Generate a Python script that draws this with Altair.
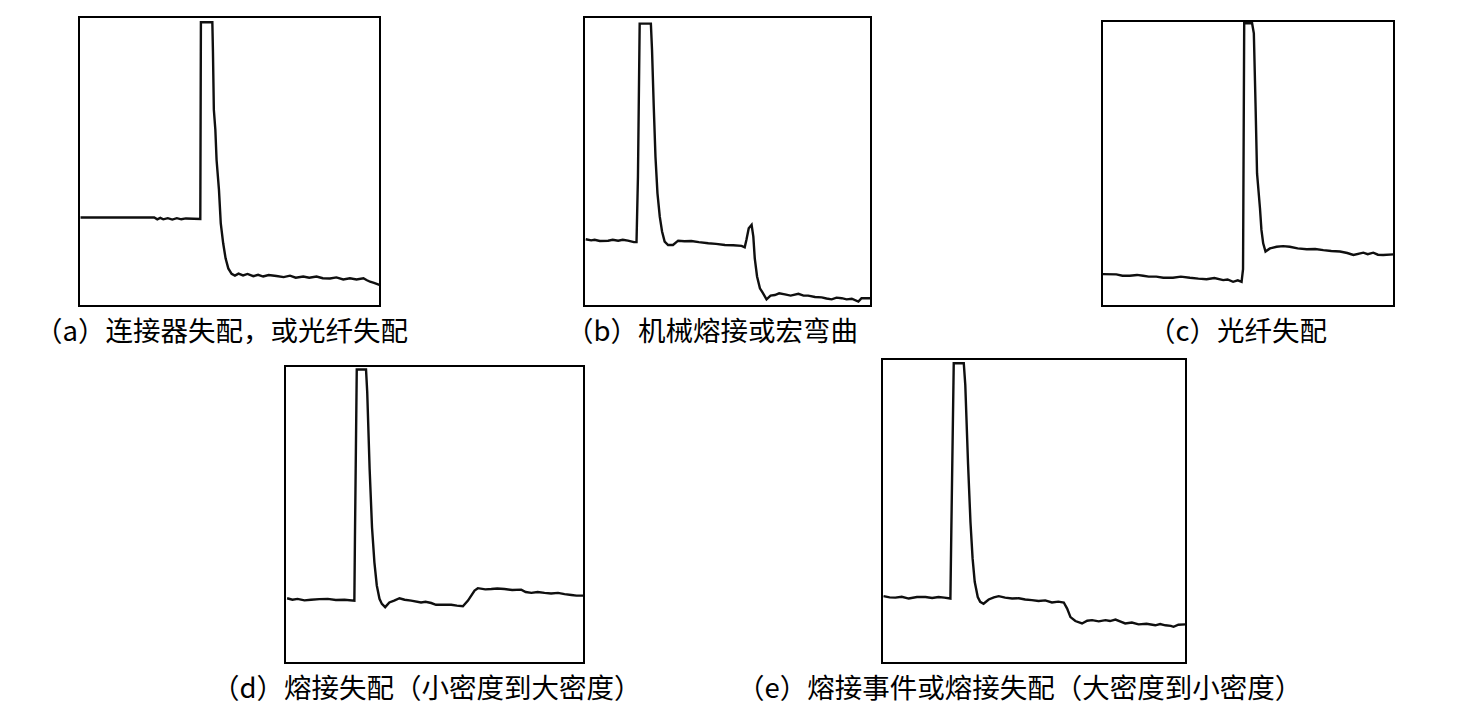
import altair as alt
import pandas as pd

# OTDR trace shapes for five splice / connector events (relative units 0-100)
a_x = [0.5, 25, 26, 27, 28, 29.5, 31, 32.5, 34, 35.5, 40.3, 40.5, 44.3, 44.5, 44.8, 45.3, 45.7, 46.5, 47.1, 47.9,
       48.7, 49.6, 50.7, 51.8, 53, 54.5, 56, 57.9, 59.5, 61.2, 63, 65.6, 68, 70.1, 72, 74.5, 76.5, 78.9, 81, 83.4,
       85.5, 87.8, 90, 92.2, 94.5, 95.5, 96.7, 98, 99.8]
a_y = [30.6, 30.6, 30.0, 30.5, 30.0, 30.4, 29.9, 30.4, 30.0, 30.3, 30.1, 98.2, 98.2, 88.1, 67.9, 61.0, 50.6, 40.2, 28.6, 21.7,
       16.5, 13.0, 11.1, 10.5, 11.2, 10.6, 11.1, 10.3, 10.8, 10.2, 10.7, 10.4, 10.0, 10.5, 9.8, 10.2, 9.8, 10.2, 9.6, 9.5,
       9.9, 9.2, 9.6, 9.2, 9.6, 9.0, 8.4, 8.0, 7.3]

b_x = [0.6, 2.5, 3.7, 5.5, 8.4, 10, 11.9, 13.5, 15.3, 17.4, 18.3, 18.8, 19.4, 23.3, 23.7, 24.3, 24.9, 25.6, 26.4, 27.2,
       28.1, 29.3, 31.0, 32.8, 35, 37.4, 40, 43.3, 46, 49.1, 52, 54.9, 56.0, 56.6, 57.4, 58.4, 59.0, 59.5, 60.3, 61.3,
       62.4, 63.6, 65, 66.5, 68, 70, 72, 74.7, 76.5, 78.1, 80.5, 82.8, 84.5, 86.3, 88, 89.8, 91.5, 93.3, 95.6, 96.7,
       99.7]
b_y = [23.1, 22.7, 22.9, 22.5, 22.6, 22.9, 22.6, 22.9, 22.6, 22.1, 22.1, 44.8, 97.7, 97.7, 88.7, 69.1, 51.7, 39.0, 30.9, 25.8,
       22.3, 21.1, 21.1, 22.6, 22.4, 22.5, 22.1, 21.7, 21.5, 21.1, 21.0, 20.8, 20.3, 22.9, 26.9, 28.1, 24.0, 16.5, 10.2, 6.1,
       4.4, 2.3, 3.6, 3.8, 4.4, 4.0, 3.6, 4.2, 3.6, 3.6, 3.1, 3.0, 2.6, 2.3, 2.9, 2.7, 2.3, 2.5, 1.5, 2.7,
       2.7]

c_x = [0.3, 4.9, 7, 9.5, 12, 14.1, 16, 18.6, 21, 24.3, 27, 30.1, 33, 35.8, 38.5, 41.5, 43, 44.9, 46.5, 47.8,
       48.3, 48.7, 51.4, 52.0, 52.6, 53.1, 54.1, 54.6, 55.2, 56.0, 57.5, 59.8, 62, 64.3, 67, 70.1, 73, 75.8, 78.5, 81.5,
       84, 86.1, 89.5, 91, 92.9, 94.5, 96.3, 99.8]
c_y = [11.2, 11.1, 10.6, 10.6, 10.9, 10.6, 10.3, 10.3, 9.9, 9.9, 10.3, 9.9, 9.6, 9.4, 9.8, 9.1, 9.3, 8.5, 9.0, 8.5,
       12.9, 99.2, 99.2, 95.7, 69.9, 46.5, 34.3, 26.7, 22.0, 19.1, 20.2, 20.8, 21.0, 20.8, 20.2, 19.9, 20.0, 19.6, 19.3, 19.1,
       18.6, 17.9, 18.7, 18.2, 18.7, 18.0, 17.9, 18.1]

d_x = [0.7, 2.5, 4.2, 6.5, 8.7, 11.5, 14.3, 17, 19.9, 23.2, 23.4, 24.0, 27.1, 27.5, 28.3, 29.1, 29.9, 30.7, 31.6, 32.4,
       33.5, 34.9, 36.5, 38.3, 40, 42.2, 45.5, 47, 48.9, 50.5, 52.2, 55.6, 57.5, 59.5, 61.2, 63.4, 64.5, 67, 69.0, 71,
       73.4, 76, 79.0, 80.5, 82.4, 84.5, 86.8, 89, 91.3, 93.5, 95.8, 97.5, 99.7]
d_y = [21.8, 21.3, 21.6, 21.1, 21.3, 21.5, 21.6, 21.2, 21.3, 21.0, 42.9, 98.8, 98.8, 91.2, 65.4, 45.7, 33.9, 26.1, 21.6, 19.9,
       18.8, 20.4, 21.0, 21.8, 21.3, 21.0, 20.4, 20.6, 20.2, 19.6, 19.6, 19.6, 19.3, 19.1, 21.0, 24.4, 25.2, 24.8, 24.9, 25.1,
       24.9, 24.6, 24.7, 23.9, 23.6, 23.9, 23.6, 23.4, 23.6, 23.2, 22.9, 22.7, 22.7]

e_x = [0.5, 2.5, 4.4, 6.5, 8.8, 11.5, 14.3, 16.5, 18.6, 20.5, 22.5, 22.8, 23.6, 26.9, 27.4, 28.3, 29.1, 29.8, 30.5, 31.5,
       32.3, 33.4, 35.1, 36.8, 38.4, 40.5, 42.8, 45, 47.1, 49.3, 51.5, 53.7, 55.9, 58, 59.8, 60.9, 62.0, 63.6, 65.8, 67.5,
       69.1, 71.3, 73.5, 75, 76.8, 78.5, 80.0, 82.2, 84.4, 87, 89.9, 91.5, 93.2, 95.0, 95.9, 97.5, 99.8]
e_y = [22.0, 21.6, 21.5, 21.8, 21.2, 21.7, 21.7, 21.4, 21.7, 21.5, 21.2, 43.1, 98.6, 98.6, 91.4, 65.6, 46.4, 34.4, 26.7, 21.7,
       20.1, 19.5, 20.9, 21.6, 22.0, 21.5, 21.2, 21.3, 20.9, 20.7, 20.4, 20.6, 19.9, 20.2, 19.9, 17.9, 15.1, 13.8, 13.0, 13.9,
       14.1, 13.7, 14.1, 13.8, 14.3, 13.6, 13.0, 13.3, 12.7, 12.9, 12.4, 12.8, 12.4, 12.2, 11.9, 12.6, 12.7]

captions = [
    "（a）连接器失配，或光纤失配",
    "（b）机械熔接或宏弯曲",
    "（c）光纤失配",
    "（d）熔接失配（小密度到大密度）",
    "（e）熔接事件或熔接失配（大密度到小密度）",
]

W, H = 1473, 718
FONT = "Noto Sans CJK SC"
FS = 27.5

# panel boxes on the page: (left, right, top, bottom), and caption anchor (x, y)
boxes = [
    (79, 380, 17, 306),
    (584, 871, 17, 306),
    (1102, 1394, 21, 306),
    (285, 584, 366, 663),
    (882, 1186, 359, 663),
]
caption_pos = [(35, 333), (566, 333), (1148, 333), (212, 690), (737, 690)]

series = [(a_x, a_y), (b_x, b_y), (c_x, c_y), (d_x, d_y), (e_x, e_y)]

layers = []
for (xs, ys), (l, r, t, b), cap, (cx, cy) in zip(series, boxes, captions, caption_pos):
    df = pd.DataFrame({"x": xs, "y": ys})
    frame = alt.Chart(pd.DataFrame({"v": [0]})).mark_rect(
        fill="white", stroke="black", strokeWidth=2
    ).encode(x=alt.value(l), x2=alt.value(r), y=alt.value(t), y2=alt.value(b))
    trace = alt.Chart(df).mark_line(color="#0f0f0f", strokeWidth=2.4).encode(
        x=alt.X("x:Q", scale=alt.Scale(domain=[0, 100], range=[l, r]), axis=None),
        y=alt.Y("y:Q", scale=alt.Scale(domain=[0, 100], range=[b, t]), axis=None),
        order="x:Q",
    )
    label = alt.Chart(pd.DataFrame({"t": [cap]})).mark_text(
        align="left", baseline="middle", font=FONT, fontSize=FS, color="black"
    ).encode(x=alt.value(cx), y=alt.value(cy), text="t:N")
    layers += [frame, trace, label]

chart = alt.layer(*layers).resolve_scale(
    x="independent", y="independent"
).properties(
    width=W, height=H,
    autosize=alt.AutoSizeParams(type="none"),
    padding={"left": 0, "top": 0, "right": 0, "bottom": 0},
    background="white",
).configure_view(stroke="transparent")

chart.save("out.html", embed_options={"renderer": "svg", "actions": False})
